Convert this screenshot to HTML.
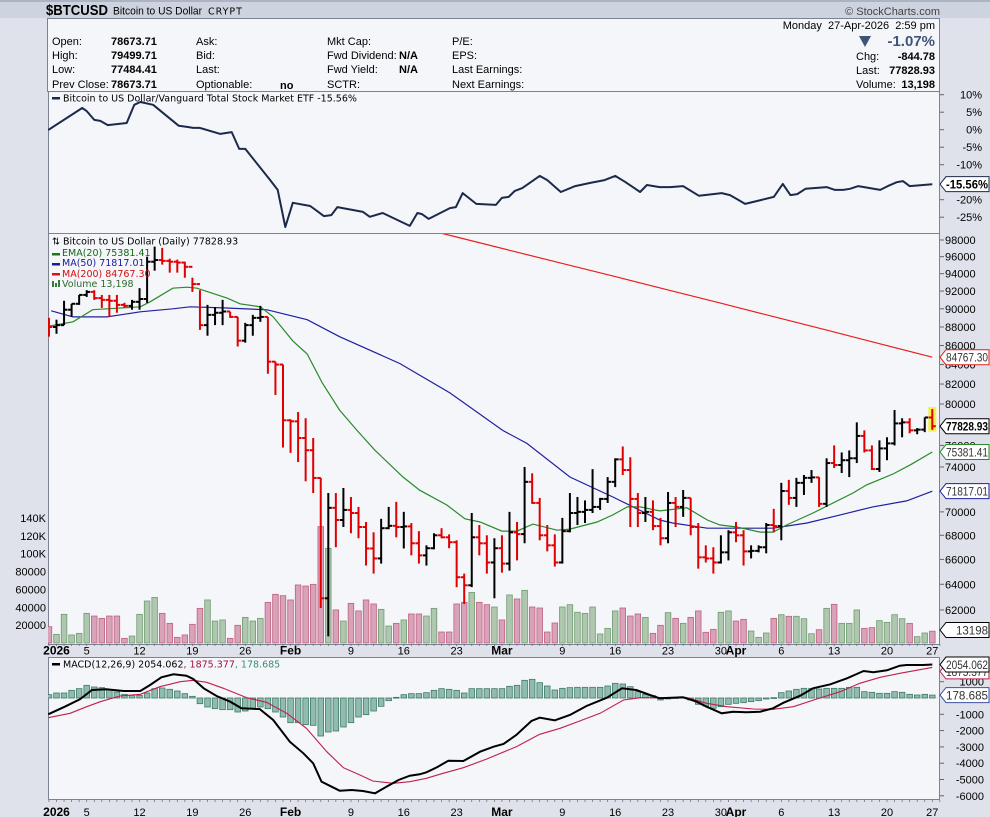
<!DOCTYPE html>
<html><head><meta charset="utf-8"><style>
html,body{margin:0;padding:0;background:#dfe2ea;}
svg{display:block;font-family:"Liberation Sans",sans-serif;}
.lg{font-family:"DejaVu Sans",sans-serif;font-size:9.5px;}
</style></head><body>
<svg id="chart" width="990" height="817" viewBox="0 0 990 817">
<defs>
<clipPath id="cpR"><rect x="48" y="92" width="892" height="141"/></clipPath>
<clipPath id="cpP"><rect x="48" y="234" width="892" height="410"/></clipPath>
<clipPath id="cpM"><rect x="48" y="658" width="892" height="142"/></clipPath>
</defs>
<rect x="0" y="0" width="990" height="817" fill="#dfe2ea"/>
<rect x="0" y="0" width="990" height="18" fill="#cdd3df"/>
<rect x="0" y="0.5" width="990" height="1" fill="#8a93a6"/>
<text x="46" y="15" font-size="15" font-weight="bold" textLength="62" lengthAdjust="spacingAndGlyphs">$BTCUSD</text>
<text x="113" y="14.5" font-size="11" textLength="89" lengthAdjust="spacingAndGlyphs">Bitcoin to US Dollar</text>
<text x="208" y="14.5" font-size="9" letter-spacing="1" class="lg">CRYPT</text>
<text x="940" y="15" font-size="11" text-anchor="end" fill="#444">© StockCharts.com</text>
<g>
<rect x="47.5" y="18.5" width="892" height="73" fill="#f4f6fa" stroke="#7a8294"/>
<g font-size="11">
<text x="52" y="45">Open:</text>
<text x="52" y="59">High:</text>
<text x="52" y="73">Low:</text>
<text x="52" y="88">Prev Close:</text>
<text x="111" y="45" font-weight="bold">78673.71</text>
<text x="111" y="59" font-weight="bold">79499.71</text>
<text x="111" y="73" font-weight="bold">77484.41</text>
<text x="111" y="88" font-weight="bold">78673.71</text>
<text x="196" y="45">Ask:</text>
<text x="196" y="59">Bid:</text>
<text x="196" y="73">Last:</text>
<text x="196" y="88">Optionable:</text>
<text x="280" y="89" font-weight="bold">no</text>
<text x="327" y="45">Mkt Cap:</text>
<text x="327" y="59">Fwd Dividend:</text>
<text x="327" y="73">Fwd Yield:</text>
<text x="327" y="88">SCTR:</text>
<text x="399" y="59" font-weight="bold">N/A</text>
<text x="399" y="73" font-weight="bold">N/A</text>
<text x="452" y="45">P/E:</text>
<text x="452" y="59">EPS:</text>
<text x="452" y="73">Last Earnings:</text>
<text x="452" y="88">Next Earnings:</text>
<text x="935" y="29" text-anchor="end">Monday&#160; 27-Apr-2026&#160; 2:59 pm</text>
<polygon points="859,36 871,36 865,47" fill="#3e5478"/>
<text x="935" y="46" text-anchor="end" font-size="15" font-weight="bold" fill="#3e5478">-1.07%</text>
<text x="856" y="60">Chg:</text>
<text x="935" y="60" text-anchor="end" font-weight="bold">-844.78</text>
<text x="856" y="74">Last:</text>
<text x="935" y="74" text-anchor="end" font-weight="bold">77828.93</text>
<text x="856" y="88">Volume:</text>
<text x="935" y="88" text-anchor="end" font-weight="bold">13,198</text>
</g></g>
<rect x="48.5" y="91.5" width="891" height="142" fill="#f4f6fa" stroke="#7a8294"/>
<rect x="48.5" y="233.5" width="891" height="411" fill="#f4f6fa" stroke="#7a8294"/>
<rect x="48.5" y="657.5" width="891" height="142" fill="#f4f6fa" stroke="#7a8294"/>
<g id="gR"></g>
<g id="gP"></g>
<g id="gM"></g>
<g id="gA"></g>
<g class="lg">
<rect x="52" y="97" width="8" height="2.5" fill="#1c2a4a"/>
<text x="63" y="101.5">Bitcoin to US Dollar/Vanguard Total Stock Market ETF -15.56%</text>
<text x="52" y="244.5">⇅</text>
<text x="63" y="244.5">Bitcoin to US Dollar (Daily) 77828.93</text>
<rect x="52" y="253" width="8" height="2.5" fill="#1a7a1a"/>
<text x="62" y="256" fill="#136a13">EMA(20) 75381.41</text>
<rect x="52" y="263" width="8" height="2.5" fill="#1a1a9a"/>
<text x="62" y="266" fill="#1a1a9a">MA(50) 71817.01</text>
<rect x="52" y="273" width="8" height="2.5" fill="#e01010"/>
<text x="62" y="277" fill="#d01010">MA(200) 84767.30</text>
<rect x="52" y="281" width="2" height="6" fill="#3a7a3a"/>
<rect x="55" y="283" width="2" height="4" fill="#3a7a3a"/>
<rect x="58" y="280" width="2" height="7" fill="#3a7a3a"/>
<text x="62" y="287" fill="#2d6a2d">Volume 13,198</text>
<rect x="52" y="663" width="8" height="2.5" fill="#000"/>
<text x="63" y="667.5">MACD(12,26,9) 2054.062<tspan fill="#a01040">, 1875.377</tspan><tspan fill="#3f8a70">, 178.685</tspan></text>
</g>
</svg>
<script>
// ---- data (day index: 0 = Jan 1 2026) ----
const firstDay = -1;
const highs = [89000,88800,90900,90560,91560,92100,92100,91560,91560,91560,90670,91000,92330,96000,97200,97050,95760,95650,95400,93530,92100,90440,90200,91000,89670,89100,88450,89330,90330,89100,84300,84000,78500,79200,78600,76700,73000,71650,71650,72100,71300,70430,69130,68250,69400,70430,70870,70000,69040,68350,67160,68170,68600,68080,67580,64850,69900,68870,68000,67750,68000,70000,69130,74000,73420,71220,68870,68080,69480,71650,71300,71000,73800,71220,73080,74800,75900,74900,71650,71300,71000,69480,71740,71300,71920,71220,69040,67160,67000,68000,68430,69130,68430,67160,67160,69040,70260,72560,72830,73010,73270,73720,73080,74800,76000,75340,75530,78200,77430,76000,76480,76770,79400,78600,78600,77650,78680,79499.71];
const lows = [86950,87260,88200,89100,90440,91330,91000,90100,89100,89560,90100,89900,89900,90670,94350,95060,94120,94120,93530,91900,87680,87050,88200,88200,89000,85900,86310,87050,88560,83050,80900,75800,75300,74450,72700,71650,62150,60000,67000,68700,68170,67750,65500,64850,65660,68520,67830,66900,66330,65660,65500,66830,67750,66920,63770,62450,63770,66330,64850,62900,64930,65090,65920,67330,70700,67580,66660,65420,65660,68250,68870,69040,69900,70170,70780,72180,73270,68700,68700,69130,68430,67160,67330,68700,69570,68000,65250,65750,64850,65660,65920,67420,65500,66080,66580,66500,68250,67580,70610,70430,71480,72560,70430,70430,73900,73450,73080,74360,75340,73720,73540,74620,76000,76770,77150,77060,77260,77484.41];
const closes = [88000,88200,89900,90560,91560,91900,91200,91000,90900,90440,90330,90780,91100,95400,95600,95500,95400,95300,94800,92800,88200,89330,89560,89700,89100,86520,88200,89000,89100,84300,84000,78400,78300,76700,75550,73000,62900,70350,69300,70170,69900,68700,66900,66080,68600,68800,68700,68750,67330,66330,66920,68000,67830,67420,64560,63920,67830,67330,65750,66920,65660,68250,68100,72650,70780,68000,67160,65750,68350,69900,70000,70170,70430,71130,72650,74700,73720,71130,69900,70000,68780,67750,70780,70430,71220,68700,66170,66080,65750,66580,68250,68000,66660,66700,67000,68870,68780,71830,71220,72560,73010,73050,70700,74360,74180,74620,74800,76900,75530,73810,75720,76190,78100,78200,77430,77500,78673.71,77828.93];
const firstOpen = 88500;
const volumes = [18300,9700,32100,9000,10800,33200,30200,27600,30200,30200,5200,7800,32100,47000,51100,33200,22000,6300,9000,20900,38800,48200,24600,25800,5200,19800,28700,24600,27600,45500,54500,53000,48200,65000,63800,65700,130300,106000,37000,24600,44400,35900,48200,43700,37700,19000,22000,25800,32500,32500,30200,38800,12300,12300,43700,45500,56700,45500,42900,40300,25800,53800,49300,59000,40300,39200,12300,22400,40300,42900,34400,33200,40300,10100,16400,35900,39200,30200,32500,28700,10800,19800,34000,27600,22000,28700,35900,12000,15300,34400,35900,24600,26500,13400,6300,11200,27600,31700,29900,29900,27200,10400,14900,38800,43300,22000,22000,37000,16400,17200,25000,23100,31700,27200,22000,7100,11200,13198];
const emaDays = [-0.9,2.2,4.8,11.1,12.4,15.4,17.3,18.6,22.6,24.3,27.0,28.7,31.3,33.2,35.2,37.5,39.8,42.2,45.9,48.1,51.7,54.1,56.1,59.0,61.0,63.1,66.3,68.0,71.6,73.7,75.6,77.3,79.9,83.5,86.2,87.9,90.1,93.2,94.9,96.7,100.2,105.5,107.3,110.8,113.1,116];
const emaVals = [88100,88560,89900,90220,90780,92330,92440,92330,91200,90560,90220,89100,86500,85100,82100,79400,77430,75530,73090,71900,70600,69400,69130,68350,68350,68950,68430,68520,69130,69740,70430,70430,70080,70350,69300,68870,68700,68270,68270,68870,69900,71650,72380,73360,74200,75381.41];
const ma50Days = [-0.7,2.2,6.7,11.1,15.4,17.7,22.1,27.9,33.2,37.5,45.5,52.1,59.1,62.3,68.0,73.7,79.9,81.6,86.2,90.5,94.9,99.4,103.8,108.1,112.6,116];
const ma50Vals = [89780,89100,89100,89670,90000,90220,90100,89890,88800,86950,84100,81100,77430,76190,73090,71300,69300,69040,68600,68600,68600,69040,69740,70430,70960,71817.01];
const ma200Days = [48,53,60,67,74,81,88,95,102,109,116];
const ma200Vals = [99500,98360,96760,95200,93660,92130,90630,89130,87660,86200,84767.30];
const ratioDays = [-1.1,3.4,4.0,5.0,5.8,6.8,9.3,10.3,11.1,12.8,16.2,17.3,18.1,19.0,21.7,23.2,24.2,25.0,28.3,29.3,30.3,31.3,33.6,34.5,35.4,36.4,37.2,40.6,41.5,43.2,46.8,47.8,48.4,49.3,52.1,52.9,53.8,55.6,58.2,59.0,59.9,60.7,61.7,64.0,65.0,66.8,68.7,70.7,72.6,74.0,75.3,77.3,78.2,79.9,81.3,83.0,85.1,88.1,89.2,90.1,91.2,95.0,96.2,97.2,98.1,99.2,102.0,103.1,104.2,105.1,106.2,109.1,110.1,111.3,112.1,113.0,116];
const ratioPct = [-0.1,6.2,5.3,2.8,2.5,1.3,1.9,7.1,7.9,7.1,1.1,0.8,0.5,0.5,-1.2,-0.7,-5.5,-5.5,-14.4,-17.2,-27.8,-20.9,-21.8,-23.2,-24.7,-24.4,-22.1,-23.5,-24.9,-23.8,-27.5,-23.8,-24.1,-25.5,-22.4,-22.1,-18.1,-21.2,-21.5,-19.5,-19.2,-17.5,-16.7,-13.2,-14.4,-17.8,-16.1,-15.2,-14.4,-13.2,-14.9,-17.8,-15.8,-16.4,-16.4,-16.1,-18.9,-18.1,-18.7,-19.8,-21.2,-19.2,-15.5,-18.7,-18.4,-16.9,-16.4,-17.2,-17.2,-16.9,-16.1,-17.2,-16.1,-15.0,-14.7,-16.1,-15.56];
const macdDays = [-1.1,1.1,3.1,4.7,6.6,8.9,11.1,12.4,13.9,15.5,17.2,18.1,19.5,21.2,23.0,24.5,26.5,26.9,28.7,30.9,32.7,34.0,35.1,36.7,37.5,39.1,40.6,42.2,43.7,45.3,46.8,48.1,49.0,50.4,51.9,53.9,56.1,57.9,59.2,60.9,62.9,64.0,66.0,68.0,70.2,72.9,74.9,76.8,78.6,79.9,83.0,84.8,86.1,88.1,89.6,91.4,93.2,94.9,96.3,98.5,100.2,102.5,104.7,106.9,108.2,110.0,111.7,112.6,114.8,116];
const macdVals = [-1002,-532,-82,491,532,429,429,798,1268,1452,1370,1166,593,123,-225,-634,-675,-675,-1350,-2679,-3395,-4008,-5133,-5501,-5685,-5644,-5705,-5849,-5440,-5031,-4765,-4683,-4560,-4254,-3845,-3865,-3292,-2986,-2822,-2270,-1411,-1207,-1370,-1043,-491,20,593,491,184,-20,41,-225,-532,-941,-838,-879,-838,-634,-286,143,593,838,1207,1657,1575,1697,1984,2025,2025,2054.062];
const signalDays = [-1.1,1.8,4.0,5.8,8.4,11.1,13.7,16.4,18.1,19.9,22.1,25.2,27.8,30.5,33.1,35.8,38.0,40.2,41.9,44.6,46.8,49.0,51.2,53.9,57.0,60.9,64.0,66.7,69.3,72.0,75.1,77.3,79.9,83.5,86.1,88.8,92.3,94.9,97.6,101.1,103.8,106.4,109.1,111.7,116];
const signalVals = [-1207,-941,-532,-225,123,225,695,1002,1084,961,593,20,-266,-941,-1861,-3292,-4274,-4724,-5092,-5235,-5133,-4928,-4622,-4274,-3742,-2986,-2229,-1861,-1411,-941,-123,20,20,20,-327,-532,-675,-695,-532,0,389,900,1268,1514,1875.377];
const histVals = [205,307,307,470,573,777,675,634,511,368,225,164,164,307,573,614,532,430,266,102,-348,-552,-654,-716,-716,-859,-798,-654,-552,-654,-859,-1166,-1513,-1513,-1636,-1677,-2331,-2086,-2025,-1779,-1513,-1166,-1023,-798,-511,-164,41,205,266,266,327,470,573,532,470,307,573,573,573,573,573,716,777,1084,1145,941,736,491,593,634,654,654,654,654,736,900,859,695,389,225,143,-123,-61,20,41,-123,-389,-491,-634,-532,-389,-327,-286,-225,-164,-61,20,327,429,532,593,593,552,593,593,593,654,654,389,348,286,286,389,348,225,184,225,179];
const priceTicks = [98000,96000,94000,92000,90000,88000,86000,84000,82000,80000,76000,74000,70000,68000,66000,64000,62000];
const volTicks = [140000,120000,100000,80000,60000,40000,20000];
const volTickLabels = ["140K","120K","100K","80000","60000","40000","20000"];
const ratioTicks = [10,5,0,-5,-10,-20,-25];
const macdTicks = [1000,-1000,-2000,-3000,-4000,-5000,-6000];
const dateTickDays = [0,4,11,18,25,31,39,46,53,59,67,74,81,88,90,96,103,110,116];
const dateTickLabels = ["2026","5","12","19","26","Feb","9","16","23","Mar","9","16","23","30","Apr","6","13","20","27"];

// ---- scales ----
const X = d => 56.5 + d*7.55;
const PY = p => 240 + 808*Math.log(98000/p);
const VY = v => 643 - v/1120;
const MY = v => 698 - v*0.0163;
const RY = p => 129.7 - 3.5*p;
const NS = "http://www.w3.org/2000/svg";
function mk(tag, at, parent){const e=document.createElementNS(NS,tag);for(const k in at)e.setAttribute(k,at[k]);parent.appendChild(e);return e;}
const gR=document.getElementById('gR'), gP=document.getElementById('gP'), gM=document.getElementById('gM'), gA=document.getElementById('gA');
const rc=mk('g',{'clip-path':'url(#cpR)'},gR);
const pc=mk('g',{'clip-path':'url(#cpP)'},gP);
const mc=mk('g',{'clip-path':'url(#cpM)'},gM);
function pathFrom(days, vals, fy){return days.map((d,i)=>(i?'L':'M')+X(d).toFixed(1)+','+fy(vals[i]).toFixed(1)).join(' ');}

let el=mk('path',{d:pathFrom(ratioDays,ratioPct,RY),fill:'none',stroke:'#1c2a4a','stroke-width':2,'stroke-linejoin':'round'},rc);



volumes.forEach((v,i)=>{
  const d=firstDay+i; const prev=i?closes[i-1]:firstOpen; const up=closes[i]>=prev;
  const r=mk('rect',{x:X(d)-2.8,y:VY(v),width:5.6,height:643-VY(v),fill:up?'#afc6af':'#d8a2b8',stroke:up?'#6f9c6f':'#c0607f','stroke-width':0.8},pc);
  
  
});
el=mk('path',{d:pathFrom(ma200Days,ma200Vals,PY),fill:'none',stroke:'#e82020','stroke-width':1.2},pc);


el=mk('path',{d:pathFrom(ma50Days,ma50Vals,PY),fill:'none',stroke:'#2020a0','stroke-width':1.2},pc);


el=mk('path',{d:pathFrom(emaDays,emaVals,PY),fill:'none',stroke:'#2a8a2a','stroke-width':1.2},pc);


el=mk('rect',{x:X(116)-4,y:PY(79700),width:8,height:PY(77300)-PY(79700),fill:'#f5f050'},pc);


closes.forEach((c,i)=>{
  const d=firstDay+i; const o=i?closes[i-1]:firstOpen; const col=c>=o?'#000':'#e00000'; const x=X(d);
  const g=mk('g',{stroke:col,'stroke-width':2},pc);
  
  
  mk('line',{x1:x,x2:x,y1:PY(highs[i]),y2:PY(lows[i])},g);
  mk('line',{x1:x-3.5,x2:x,y1:PY(o),y2:PY(o)},g);
  mk('line',{x1:x,x2:x+3.5,y1:PY(c),y2:PY(c)},g);
});

mk('line',{x1:48,x2:940,y1:MY(0),y2:MY(0),stroke:'#c8ccd6','stroke-width':0.5},mc);
histVals.forEach((v,i)=>{
  const d=firstDay+i; const y0=MY(0), y1=MY(v);
  const r=mk('rect',{x:X(d)-2.8,y:Math.min(y0,y1),width:5.6,height:Math.max(0.8,Math.abs(y1-y0)),fill:'#8fbcaf',stroke:'#3f7a66','stroke-width':0.8},mc);
  
  
});
el=mk('path',{d:pathFrom(signalDays,signalVals,MY),fill:'none',stroke:'#c0204a','stroke-width':1.1},mc);


el=mk('path',{d:pathFrom(macdDays,macdVals,MY),fill:'none',stroke:'#000','stroke-width':2},mc);



function txt(x,y,s,at,name){const t=mk('text',Object.assign({x:x,y:y,'font-size':11},at||{}),gA);t.textContent=s;return t;}
priceTicks.forEach(p=>{mk('line',{x1:940,x2:944,y1:PY(p),y2:PY(p),stroke:'#666'},gA);txt(945,PY(p)+4,String(p),{},'price-tick-label');});
volTicks.forEach((v,i)=>{txt(46,VY(v)+4,volTickLabels[i],{'text-anchor':'end'},'volume-tick-label');});
ratioTicks.forEach(p=>{mk('line',{x1:940,x2:944,y1:RY(p),y2:RY(p),stroke:'#666'},gA);txt(982,RY(p)+4,p+'%',{'text-anchor':'end'},'ratio-tick-label');});
macdTicks.forEach(v=>{mk('line',{x1:940,x2:944,y1:MY(v),y2:MY(v),stroke:'#666'},gA);txt(984,MY(v)+4,String(v),{'text-anchor':'end'},'macd-tick-label');});
[650.5,812].forEach((yy,k)=>{
  for(let d=-1;d<=117;d++){mk('line',{x1:X(d),x2:X(d),y1:k?800:644,y2:k?802:646,stroke:'#666','stroke-width':0.7},gA);}
  dateTickDays.forEach((d,i)=>{const s=dateTickLabels[i];const b=isNaN(+s)||s==='2026';txt(X(d),yy+4,s,{'text-anchor':'middle','font-weight':b?'bold':'normal','font-size':b?12:11},'date-tick-label');});
});
function tag(y,label,color,bold,name){
  const p=mk('polygon',{points:`940,${y} 946,${y-7.5} 989,${y-7.5} 989,${y+7.5} 946,${y+7.5}`,fill:'#fff',stroke:color,'stroke-width':1},gA);
  
  
  const w = label.length<=6 ? 32 : 42;
  txt(988-w,y+4.5,label,{fill:bold?'#000':'#333','font-weight':bold?'bold':'normal','font-size':11.5,textLength:w,lengthAdjust:'spacingAndGlyphs'},name);
}
tag(RY(-15.56),'-15.56%','#1c2a4a',true,'ratio-value-tag');
tag(PY(84767.30),'84767.30','#e02020',false,'ma200-value-tag');
tag(PY(77828.93),'77828.93','#000',true,'last-price-tag');
tag(PY(75381.41),'75381.41','#2a8a2a',false,'ema20-value-tag');
tag(PY(71817.01),'71817.01','#2020a0',false,'ma50-value-tag');
tag(630,'13198','#000',false,'volume-value-tag');
tag(MY(1875.377)+4,'1875.377','#c0204a',false,'signal-value-tag');
tag(MY(2054.062),'2054.062','#000',false,'macd-value-tag');
tag(MY(178.685),'178.685','#4050a0',false,'histogram-value-tag');
</script>
</body></html>
